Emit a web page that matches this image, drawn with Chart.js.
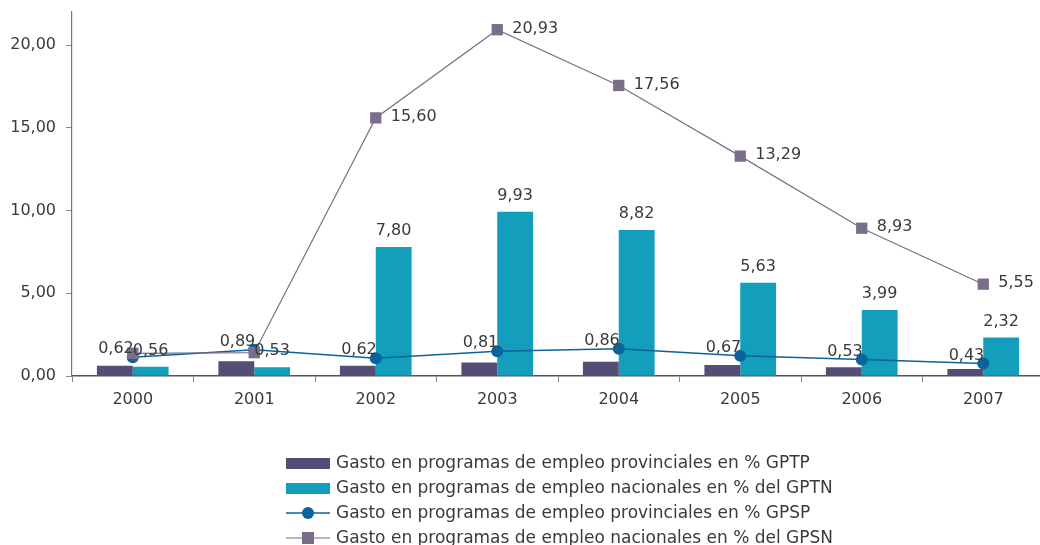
<!DOCTYPE html>
<html>
<head>
<meta charset="utf-8">
<script src="https://cdn.jsdelivr.net/npm/chart.js@4/dist/chart.umd.min.js"></script>
<style>
    html, body { margin: 0; padding: 0; background: #fff; overflow: hidden; }
    #wrap { position: absolute; left: 0; top: 0; width: 1052px; height: 545px; }
</style>
</head>
<body>
<div id="wrap"><canvas id="chart" width="1052" height="545"></canvas></div>
<script>
// ── Daten ──────────────────────────────────────────────────────────────────

const YEARS = ['2000', '2001', '2002', '2003', '2004', '2005', '2006', '2007'];

const GPTP = [0.62, 0.89, 0.62, 0.81, 0.86, 0.67, 0.53, 0.43];
const GPTN = [0.56, 0.53, 7.80, 9.93, 8.82, 5.63, 3.99, 2.32];
const GPSP = [1.13, 1.58, 1.07, 1.50, 1.64, 1.23, 0.99, 0.75];
const GPSN = [1.37, 1.41, 15.60, 20.93, 17.56, 13.29, 8.93, 5.55];
const GPSN_LABELLED = [false, false, true, true, true, true, true, true];

const Y_TICKS = [0, 5, 10, 15, 20];

const LABELS = [
    'Gasto en programas de empleo provinciales en % GPTP',
    'Gasto en programas de empleo nacionales en % del GPTN',
    'Gasto en programas de empleo provinciales en % GPSP',
    'Gasto en programas de empleo nacionales en % del GPSN',
];

// ── Farben ─────────────────────────────────────────────────────────────────

const C_DARK  = '#544d76';
const C_CYAN  = '#139ebb';
const C_BLUE  = '#0b639b';
const C_GREY  = '#7b6e8a';
const C_TEXT  = '#3a3a3a';
const FONT    = '"DejaVu Sans", sans-serif';

const fmt = v => v.toFixed(2).replace('.', ',');

// ── Plugins: Datenbeschriftung + Legende ───────────────────────────────────

const valueLabels = {
    id: 'valueLabels',
    afterDatasetsDraw(chart) {
        const ctx = chart.ctx;
        ctx.save();
        ctx.font = '16px ' + FONT;
        ctx.fillStyle = C_TEXT;
        ctx.textBaseline = 'middle';

        // GPTP-Werte links oberhalb der GPSP-Punkte
        const lineP = chart.getDatasetMeta(2).data;
        ctx.textAlign = 'right';
        GPTP.forEach((v, i) => {
            const p = lineP[i];
            ctx.fillText(fmt(v), p.x + 1, p.y - 8);
        });

        // GPTN-Werte über den Balken
        const bars = chart.getDatasetMeta(1).data;
        ctx.textAlign = 'center';
        GPTN.forEach((v, i) => {
            const b = bars[i];
            ctx.fillText(fmt(v), b.x, b.y - 16);
        });

        // GPSN-Werte rechts neben den Quadraten
        const lineN = chart.getDatasetMeta(3).data;
        ctx.textAlign = 'left';
        GPSN.forEach((v, i) => {
            if (!GPSN_LABELLED[i]) return;
            const p = lineN[i];
            ctx.fillText(fmt(v), p.x + 15, p.y - 1);
        });
        ctx.restore();
    },
};

const listLegend = {
    id: 'listLegend',
    afterDraw(chart) {
        const ctx = chart.ctx;
        const x0 = 286, y0 = 463, step = 25, w = 44;
        ctx.save();
        ctx.font = '17px ' + FONT;
        ctx.textBaseline = 'middle';
        ctx.textAlign = 'left';
        chart.data.datasets.forEach((ds, i) => {
            const y = y0 + i * step;
            if (ds.type === 'bar') {
                ctx.fillStyle = ds.backgroundColor;
                ctx.fillRect(x0, y - 5, w, 11);
            } else {
                ctx.strokeStyle = ds.borderColor;
                ctx.lineWidth = ds.borderWidth;
                ctx.beginPath();
                ctx.moveTo(x0, y);
                ctx.lineTo(x0 + w, y);
                ctx.stroke();
                ctx.fillStyle = ds.pointBackgroundColor;
                if (ds.pointStyle === 'rect') {
                    ctx.fillRect(x0 + w / 2 - 6, y - 6, 12, 12);
                } else {
                    ctx.beginPath();
                    ctx.arc(x0 + w / 2, y, 6, 0, Math.PI * 2);
                    ctx.fill();
                }
            }
            ctx.fillStyle = C_TEXT;
            ctx.fillText(ds.label, x0 + w + 6, y + 1);
        });
        ctx.restore();
    },
};

// ── Chart ──────────────────────────────────────────────────────────────────

new Chart(document.getElementById('chart'), {
    data: {
        labels: YEARS,
        datasets: [
            {
                type: 'bar',
                label: LABELS[0],
                data: GPTP,
                backgroundColor: C_DARK,
                order: 2,
                barPercentage: 1.0,
                categoryPercentage: 0.59,
            },
            {
                type: 'bar',
                label: LABELS[1],
                data: GPTN,
                backgroundColor: C_CYAN,
                order: 2,
                barPercentage: 1.0,
                categoryPercentage: 0.59,
            },
            {
                type: 'line',
                label: LABELS[2],
                data: GPSP,
                borderColor: C_BLUE,
                borderWidth: 1.5,
                pointStyle: 'circle',
                pointRadius: 6,
                pointBorderWidth: 0,
                pointBackgroundColor: C_BLUE,
                tension: 0,
                order: 1,
            },
            {
                type: 'line',
                label: LABELS[3],
                data: GPSN,
                borderColor: C_GREY,
                borderWidth: 1.2,
                pointStyle: 'rect',
                pointRadius: 8,
                pointBorderWidth: 0,
                pointBackgroundColor: C_GREY,
                tension: 0,
                order: 0,
            },
        ],
    },
    options: {
        responsive: false,
        animation: false,
        layout: { padding: { top: 12, right: 4, bottom: 129, left: 0 } },
        plugins: {
            legend: { display: false },
            tooltip: { enabled: false },
        },
        scales: {
            x: {
                offset: true,
                grid: {
                    offset: true,
                    drawOnChartArea: false,
                    tickLength: 6,
                    color: '#888',
                },
                border: { color: '#555', width: 1.5 },
                ticks: {
                    color: C_TEXT,
                    font: { family: FONT, size: 16 },
                    padding: 8,
                },
                afterFit(scale) { scale.height = 40; },
            },
            y: {
                min: 0,
                max: 22,
                grid: {
                    drawOnChartArea: false,
                    tickLength: 6,
                    color: '#888',
                },
                border: { color: '#777', width: 1.2 },
                ticks: {
                    stepSize: 5,
                    color: C_TEXT,
                    font: { family: FONT, size: 16 },
                    padding: 10,
                    callback: v => fmt(v),
                },
                afterBuildTicks(scale) {
                    scale.ticks = Y_TICKS.map(v => ({ value: v }));
                },
                afterFit(scale) {
                    scale.width = 72;
                    scale.paddingTop = 0;
                    scale.paddingBottom = 0;
                },
            },
        },
    },
    plugins: [valueLabels, listLegend],
});
</script>
</body>
</html>
